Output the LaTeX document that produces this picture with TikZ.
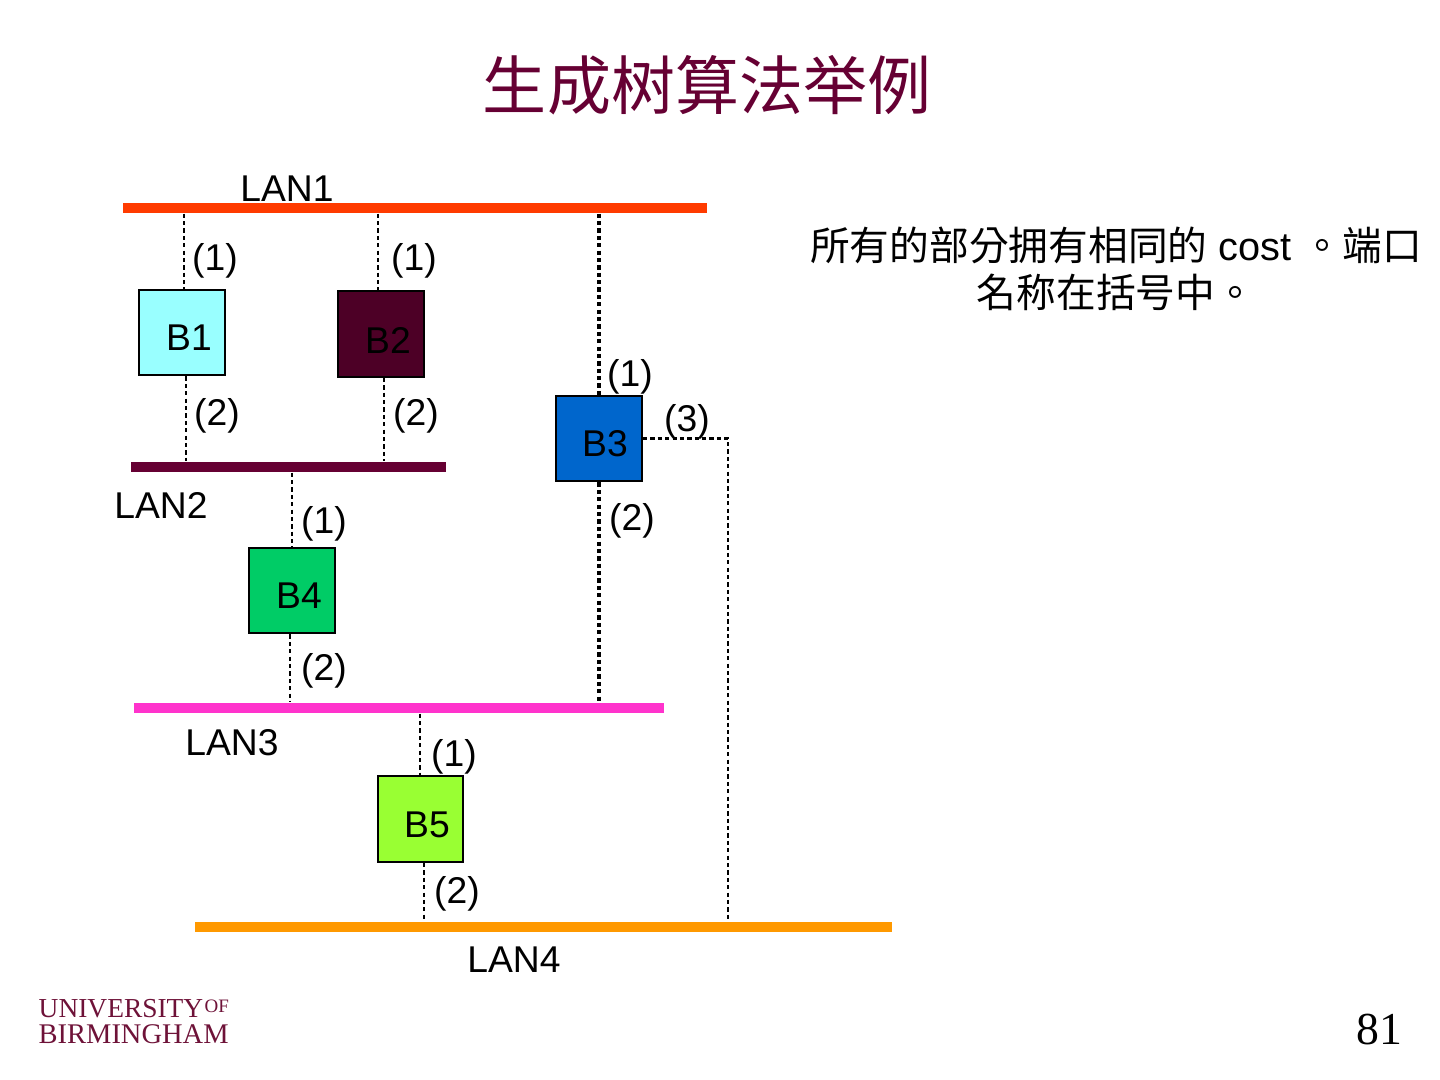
\documentclass[tikz,border=0pt]{standalone}
\usepackage{fontspec}
\setmainfont{Liberation Sans}
\newfontfamily\serifrm{Liberation Serif}
\newfontfamily\cjk{Noto Sans CJK SC}
\newfontfamily\cjknote{Noto Sans CJK TC}
\usetikzlibrary{positioning, calc}
\definecolor{titlered}{HTML}{660033}
\definecolor{logored}{HTML}{6E1238}
\definecolor{lanone}{HTML}{FF3B00}
\definecolor{lanthree}{HTML}{FF33CC}
\definecolor{lanfour}{HTML}{FF9900}
\definecolor{brone}{HTML}{99FFFF}
\definecolor{brtwo}{HTML}{4D0026}
\definecolor{brthree}{HTML}{0066CC}
\definecolor{brfour}{HTML}{00CC66}
\definecolor{brfive}{HTML}{99FF33}
\tikzset{
  bridge/.style={draw=black, line width=0.6pt, minimum size=24.4pt, inner sep=0pt},
  lanbar/.style={inner sep=0pt, minimum height=2.8pt},
  port/.style={line width=0.65pt, dash pattern=on 1.2pt off 0.9pt},
  trunk/.style={port, line width=0.95pt},
  lbl/.style={font=\fontsize{10.6}{12}\selectfont, inner sep=0pt}
}
\begin{document}
\begin{tikzpicture}[x=0.01cm, y=-0.01cm]
  \useasboundingbox (0,0) rectangle (1440,1080);
  \node[font=\cjk\fontsize{18.2}{22}\selectfont, text=titlered, inner sep=0pt] (title) at (707,85) {生成树算法举例};
  % LANs
  \node[lanbar, fill=lanone, minimum width=165.9pt] (lan1) at (415,208) {};
  \node[lanbar, fill=titlered, minimum width=89.6pt] (lan2) at (288.5,467) {};
  \node[lanbar, fill=lanthree, minimum width=150.8pt] (lan3) at (399,708) {};
  \node[lanbar, fill=lanfour, minimum width=198.3pt] (lan4) at (543.5,927) {};
  \foreach \name/\x/\y/\txt in {
    lan1t/287/189/LAN1, lan2t/161/505/LAN2, lan3t/232/743/LAN3, lan4t/514/960/LAN4}{
    \node[lbl] (\name) at (\x,\y) {\txt};
  }
  % bridges
  \node[bridge, fill=brone] (b1) at (182,332.5) {};
  \node[bridge, fill=brtwo] (b2) at (381,334) {};
  \node[bridge, fill=brthree] (b3) at (599,438.5) {};
  \node[bridge, fill=brfour] (b4) at (292,590.5) {};
  \node[bridge, fill=brfive] (b5) at (420.5,819) {};
  \foreach \name/\x/\y/\txt in {
    b1t/189/338/B1, b2t/388/340/B2, b3t/605/444/B3, b4t/299/596/B4, b5t/427/825/B5}{
    \node[lbl] (\name) at (\x,\y) {\txt};
  }
  % ports
  \foreach \a/\b/\x in {
    lan1/b1/184, lan1/b2/378, lan2/b4/292, lan3/b5/420}{
    \draw[port] (\x,0 |- \a.south) -- (\x,0 |- \b.north);
  }
  \foreach \a/\b/\x in {
    b1/lan2/186, b2/lan2/384, b4/lan3/290, b5/lan4/424}{
    \draw[port] (\x,0 |- \a.south) -- (\x,0 |- \b.north);
  }
  \draw[trunk] (599,0 |- lan1.south) -- (599,0 |- b3.north);
  \draw[trunk] (599,0 |- b3.south) -- (599,0 |- lan3.north);
  \draw[port, line width=0.8pt] (b3.east) -- (728,0 |- b3.east) -- (728,0 |- lan4.north);
  % port numbers
  \foreach \name/\x/\y/\txt in {
    pa/215/261/(1), pb/414/261/(1), pc/217/416/(2), pd/416/416/(2),
    pe/630/377/(1), pf/687/422/(3), pg/632/521/(2), ph/324/524/(1),
    pi/324/671/(2), pj/454/757/(1), pk/457/894/(2)}{
    \node[lbl] (\name) at (\x,\y) {\txt};
  }
  \node[font=\fontsize{11.3}{13.4}\selectfont, align=center, inner sep=0pt] (note) at (1116,268.5)
    {{\cjknote 所有的部分拥有相同的} cost {\cjknote 。端口}\\{\cjknote 名称在括号中。}};
  % logo
  \node[anchor=base west, font=\serifrm\fontsize{7.8}{9}\selectfont, text=logored, inner sep=0pt] (logoa) at (38,1017) {UNIVERSITY};
  \node[anchor=base west, font=\serifrm\fontsize{5.4}{6}\selectfont, text=logored, inner sep=0pt] (logob) at (204,1012) {OF};
  \node[anchor=base west, font=\serifrm\fontsize{8.1}{9}\selectfont, text=logored, inner sep=0pt] (logoc) at (38,1043) {BIRMINGHAM};
  \node[font=\serifrm\fontsize{13}{15}\selectfont, inner sep=0pt] (pageno) at (1379,1030) {81};
\end{tikzpicture}
\end{document}
